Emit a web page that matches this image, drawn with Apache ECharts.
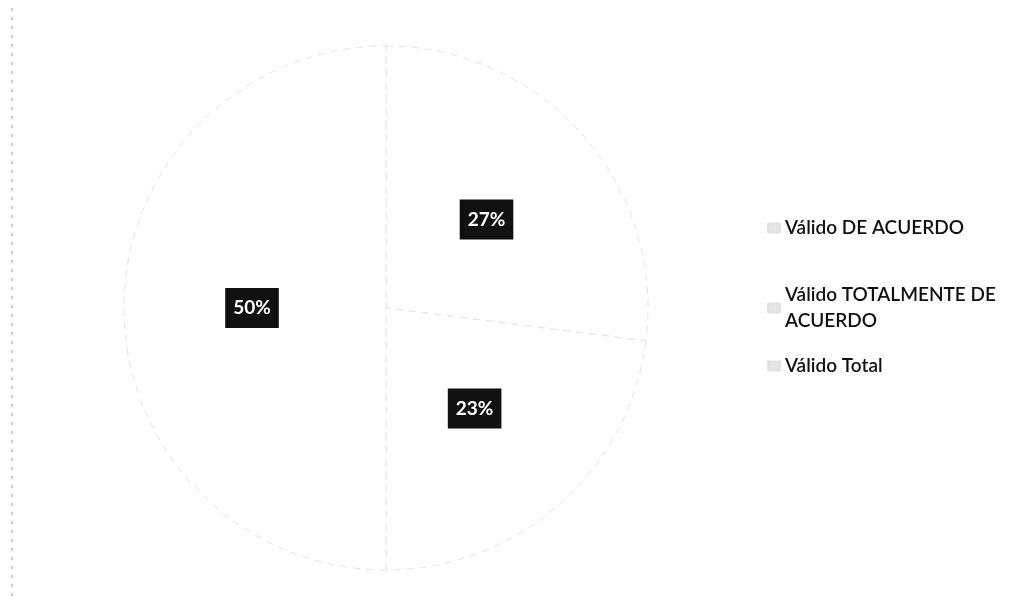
<!DOCTYPE html>
<html>
<head>
<meta charset="utf-8">
<script src="https://cdn.jsdelivr.net/npm/echarts@6/dist/echarts.min.js"></script>
<style>
html,body{margin:0;padding:0;background:#fff;}
#c{width:1012px;height:609px;}
</style>
</head>
<body>
<div id="c"></div>
<script>
const categories = ['Válido DE ACUERDO', 'Válido TOTALMENTE DE ACUERDO', 'Válido Total'];
const values = [27, 23, 50];
const legendLabels = ['Válido DE ACUERDO', 'Válido TOTALMENTE DE\nACUERDO', 'Válido Total'];
const sliceColors = ['#ffffff', '#ffffff', '#ffffff'];

const chart = echarts.init(document.getElementById('c'));
const font = 'Lato, "Open Sans", sans-serif';
const legendTops = [215, 282, 353];

const legends = categories.map((name, i) => ({
  data: [name],
  orient: 'vertical',
  left: 767,
  top: legendTops[i],
  padding: 0,
  itemWidth: 12,
  itemHeight: 9,
  itemGap: 0,
  icon: 'rect',
  itemStyle: { color: '#e6e6e6' },
  selectedMode: false,
  formatter: () => legendLabels[i],
  textStyle: { fontFamily: font, fontSize: 19, fontWeight: 600, color: '#111', lineHeight: 26 }
}));

chart.setOption({
  backgroundColor: '#ffffff',
  animation: false,
  legend: legends,
  graphic: [{
    type: 'line',
    shape: { x1: 12, y1: 8, x2: 12, y2: 600 },
    style: { stroke: '#9a9a9a', lineWidth: 1, lineDash: [3, 6] }
  }],
  series: [{
    type: 'pie',
    center: [386, 308],
    radius: 262,
    startAngle: 90,
    clockwise: true,
    data: categories.map((name, i) => ({ name, value: values[i], itemStyle: { color: sliceColors[i] } })),
    itemStyle: { borderColor: '#e2e2e2', borderWidth: 1, borderType: [7, 6] },
    label: {
      show: true,
      position: 'inside',
      formatter: '{d}%',
      fontFamily: font,
      fontSize: 19,
      fontWeight: 'bold',
      color: '#ffffff',
      backgroundColor: '#111111',
      padding: [11, 8, 10, 8]
    },
    labelLine: { show: false },
    emphasis: { disabled: true }
  }]
});
</script>
</body>
</html>
